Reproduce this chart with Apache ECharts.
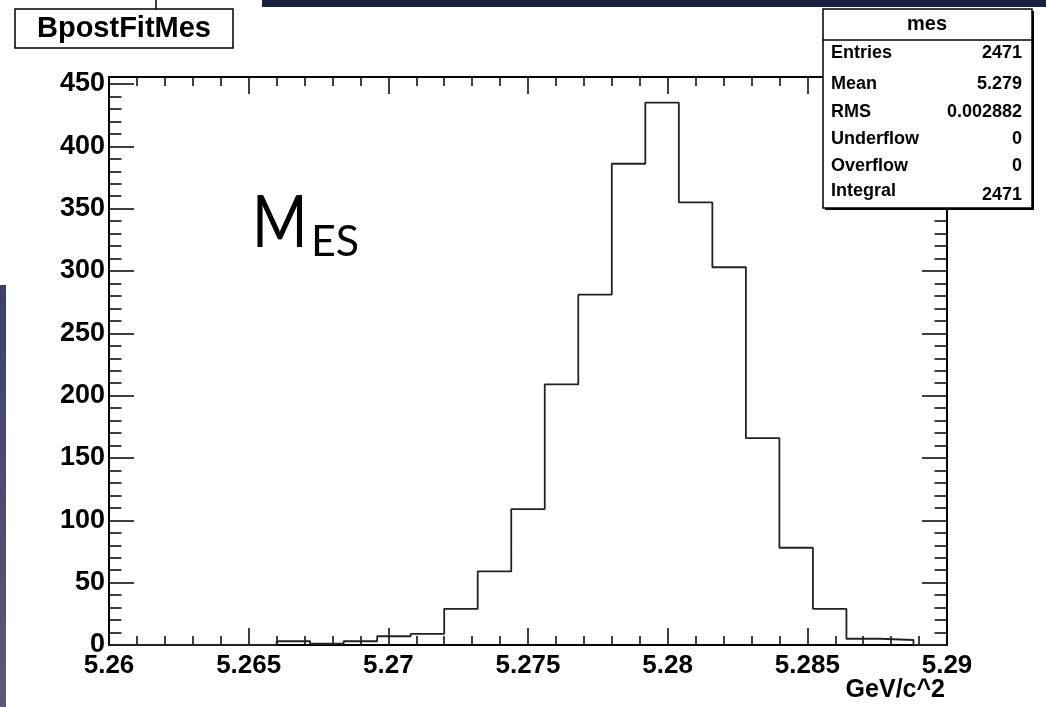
<!DOCTYPE html>
<html>
<head>
<meta charset="utf-8">
<script src="https://cdn.jsdelivr.net/npm/echarts@6/dist/echarts.min.js"></script>
<style>
  html, body { margin: 0; padding: 0; background: #fff; }
  #main { width: 1046px; height: 707px; }
</style>
</head>
<body>
<div id="main"></div>
<script>
// histogram binning (25 bins between 5.26 and 5.29)
var xMin = 5.26;
var xMax = 5.29;
var binWidth = 0.0012;
var counts = [0, 0, 0, 0, 0, 3, 1, 3, 7, 9, 29, 59, 109, 209, 281, 386, 435, 355, 303, 166, 78, 29, 5, 4, 0];
var yTop = 455.6;

// stats box
var statNames = ['Entries', 'Mean', 'RMS', 'Underflow', 'Overflow', 'Integral'];
var statValues = ['2471', '5.279', '0.002882', '0', '0', '2471'];

var FONT = '"Liberation Sans", Arial, sans-serif';

// step outline points: left edge of every bin + closing edge
var steps = [];
for (var i = 0; i < counts.length; i++) {
	steps.push([xMin + i * binWidth, counts[i]]);
}
steps.push([xMax, counts[counts.length - 1]]);

function fmtX(v) {
	return v.toFixed(3).replace(/0+$/, '');
}
function fmtY(v) {
	return (Math.abs(v % 50) < 1e-6) ? String(v) : '';
}

var axisLine = { show: true, onZero: false, lineStyle: { color: '#000', width: 2 } };
var tickStyle = { color: '#000', width: 1.5 };

var xBase = {
	type: 'value',
	min: xMin,
	max: xMax,
	interval: 0.005,
	axisLine: axisLine,
	axisTick: { show: true, inside: true, length: 17, lineStyle: tickStyle },
	minorTick: { show: true, splitNumber: 5, length: 9, lineStyle: tickStyle },
	splitLine: { show: false },
	minorSplitLine: { show: false },
	axisLabel: { show: false }
};
// y: major ticks every 50, minor every 10 on a second overlaid axis
function yAxisDef(pos, step, len, labels) {
	return {
		type: 'value',
		position: pos,
		min: 0,
		max: yTop,
		interval: step,
		axisLine: axisLine,
		axisTick: { show: true, inside: true, length: len, lineStyle: tickStyle },
		splitLine: { show: false },
		axisLabel: labels
			? { show: true, margin: 4, color: '#000', fontFamily: FONT, fontWeight: 'bold', fontSize: 27, formatter: fmtY, showMaxLabel: false }
			: { show: false }
	};
}

var statGraphics = [
	{ type: 'rect', shape: { x: 825, y: 11, width: 209, height: 199 }, style: { fill: '#000' }, z: 100 },
	{ type: 'rect', shape: { x: 823, y: 9, width: 209, height: 199 }, style: { fill: '#fff', stroke: '#000', lineWidth: 1.5 }, z: 101 },
	{ type: 'line', shape: { x1: 823, y1: 40, x2: 1032, y2: 40 }, style: { stroke: '#000', lineWidth: 1.5 }, z: 102 },
	{ type: 'text', x: 927, y: 24, z: 102, style: { text: 'mes', font: 'bold 20px ' + FONT, fill: '#000', align: 'center', verticalAlign: 'middle' } }
];
var rowY = [53, 84, 112, 139, 166, 191];
for (var r = 0; r < statNames.length; r++) {
	statGraphics.push({ type: 'text', x: 831, y: rowY[r], z: 102,
		style: { text: statNames[r], font: 'bold 18px ' + FONT, fill: '#000', align: 'left', verticalAlign: 'middle' } });
	statGraphics.push({ type: 'text', x: 1022, y: rowY[r] + (r === 5 ? 4 : 0), z: 102,
		style: { text: statValues[r], font: 'bold 18px ' + FONT, fill: '#000', align: 'right', verticalAlign: 'middle' } });
}

var option = {
	backgroundColor: '#fff',
	animation: false,
	grid: { left: 109, right: 99, top: 77, bottom: 62, containLabel: false },
	xAxis: [
		Object.assign({}, xBase, {
			position: 'bottom',
			axisLabel: { show: true, margin: 8, color: '#000', fontFamily: FONT, fontWeight: 'bold', fontSize: 26, formatter: fmtX }
		}),
		Object.assign({}, xBase, { position: 'top' })
	],
	yAxis: [
		yAxisDef('left', 50, 25, true),
		yAxisDef('left', 10, 12.5, false),
		yAxisDef('right', 50, 25, false),
		yAxisDef('right', 10, 12.5, false)
	],
	series: [{
		type: 'line',
		xAxisIndex: 0,
		yAxisIndex: 0,
		step: 'end',
		symbol: 'none',
		data: steps,
		lineStyle: { color: '#222', width: 1.8 },
		z: 5
	}],
	graphic: [
		// slide background pieces around the plot
		{ type: 'rect', shape: { x: 262, y: 0, width: 784, height: 7 }, style: { fill: '#1c2040' } },
		{ type: 'rect', shape: { x: 0, y: 285, width: 6, height: 422 },
			style: { fill: new echarts.graphic.LinearGradient(0, 0, 0, 1, [{ offset: 0, color: '#3e4163' }, { offset: 1, color: '#5a5c72' }]) } },
		{ type: 'line', shape: { x1: 156, y1: 0, x2: 156, y2: 9 }, style: { stroke: '#000', lineWidth: 1.5 } },
		// title box
		{ type: 'rect', shape: { x: 15, y: 9, width: 218, height: 39 }, style: { fill: '#fff', stroke: '#000', lineWidth: 1.5 } },
		{ type: 'text', x: 124, y: 29, style: { text: 'BpostFitMes', font: 'bold 29px ' + FONT, fill: '#000', align: 'center', verticalAlign: 'middle' } },
		// axis title
		{ type: 'text', x: 945, y: 690, style: { text: 'GeV/c^2', font: 'bold 25px ' + FONT, fill: '#000', align: 'right', verticalAlign: 'middle' } },
		// M_ES label
		{ type: 'text', x: 252, y: 224, scaleX: 0.83, originX: 0, originY: 0,
			style: { text: 'M', font: '72px Lato, "Open Sans", sans-serif', fill: '#000', align: 'left', verticalAlign: 'middle' } },
		{ type: 'text', x: 311, y: 242, style: { text: 'ES', font: '43px Lato, "Open Sans", sans-serif', fill: '#000', align: 'left', verticalAlign: 'middle' } }
	].concat(statGraphics)
};

var myChart = echarts.init(document.getElementById('main'));
myChart.setOption(option);
</script>
</body>
</html>
